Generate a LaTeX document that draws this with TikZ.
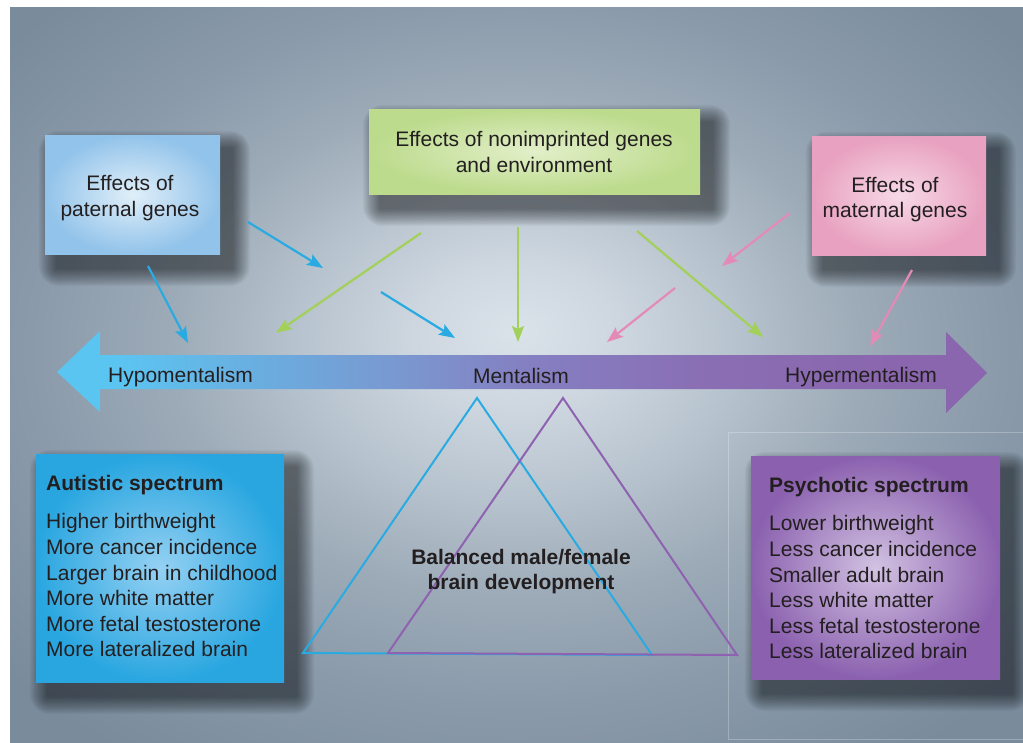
\documentclass[tikz,border=0pt]{standalone}
\usepackage{fontspec}
\setmainfont{Liberation Sans}
\usetikzlibrary{arrows.meta,calc}
\pgfdeclarelayer{bg}
\pgfdeclarelayer{shadowlayer}
\pgfsetlayers{bg,shadowlayer,main}

\definecolor{txt}{HTML}{231F20}
\definecolor{pc0}{HTML}{DAE2EA}
\definecolor{pc1}{HTML}{CED7E0}
\definecolor{pc2}{HTML}{B6C2CD}
\definecolor{pc3}{HTML}{9DABB8}
\definecolor{pc4}{HTML}{8A9AAA}
\definecolor{pc5}{HTML}{7A8B9C}
\definecolor{bar1}{HTML}{5BC5F2}
\definecolor{bar2}{HTML}{6AADDF}
\definecolor{bar3}{HTML}{7B96CF}
\definecolor{bar4}{HTML}{8480C2}
\definecolor{bar5}{HTML}{8A6EB4}
\definecolor{bar6}{HTML}{8A66AE}
\definecolor{ablue}{HTML}{29ABE2}
\definecolor{agreen}{HTML}{A3D058}
\definecolor{apink}{HTML}{E48AB6}
\definecolor{tpurple}{HTML}{8E62B0}
\definecolor{patin}{HTML}{E0EFF9}
\definecolor{patout}{HTML}{92C3EA}
\definecolor{envin}{HTML}{E2EFC9}
\definecolor{envout}{HTML}{BCDB8C}
\definecolor{matin}{HTML}{F7D9E7}
\definecolor{matout}{HTML}{E8A1C0}
\definecolor{autin}{HTML}{95D1F3}
\definecolor{autout}{HTML}{29A6E0}
\definecolor{psyin}{HTML}{D2C2E2}
\definecolor{psyout}{HTML}{8B61AF}

\pgfdeclareradialshading{panelshade}{\pgfpoint{0bp}{3bp}}{color(0bp)=(pc0); color(5bp)=(pc1); color(11bp)=(pc2); color(17bp)=(pc3); color(24bp)=(pc4); color(33bp)=(pc5); color(50bp)=(pc5)}
\pgfdeclarehorizontalshading{barshade}{100bp}{color(0bp)=(bar1); color(28bp)=(bar1); color(36bp)=(bar2); color(44bp)=(bar3); color(50bp)=(bar4); color(60bp)=(bar5); color(70bp)=(bar6); color(100bp)=(bar6)}

\newcommand\boxshadow[1]{%
  \begin{pgfonlayer}{shadowlayer}
    \foreach \sr in {1,...,20}{%
      \fill[black,opacity=0.026,rounded corners={\sr pt}]
        ($(#1.north west)+(12-0.9*\sr,14-0.9*\sr)$) rectangle ($(#1.south east)+(12+0.9*\sr,14+0.9*\sr)$);}
  \end{pgfonlayer}}

\tikzset{
  every node/.style={font=\fontsize{21}{25.6}\selectfont, text=txt},
  colorbox/.style={rectangle, draw=none, inner sep=0pt},
  boxtext/.style={align=center, inner sep=0pt},
  listtext/.style={align=left, inner sep=0pt, anchor=north west},
  arr/.style={line width=2.2pt, -{Stealth[length=16pt,width=12pt,inset=3pt]}},
  tri/.style={line width=2pt, line join=miter},
}

\begin{document}
\begin{tikzpicture}[x=1pt,y=-1pt]
\useasboundingbox (0,0) rectangle (1023,742);
\begin{pgfonlayer}{bg}
  \fill[white] (0,0) rectangle (1023,742);
  \shade[shading=panelshade] (10,7) rectangle (1023,742);
  \draw[white,opacity=0.25,line width=0.8pt] (1023,432) -- (728,432) -- (728,739) -- (1023,739);
\end{pgfonlayer}

% boxes
\node[colorbox, minimum width=175pt, minimum height=119pt, inner color=patin, outer color=patout] (pat) at (132.5,194.5) {};
\node[colorbox, minimum width=331pt, minimum height=85pt, inner color=envin, outer color=envout] (env) at (534.5,151.5) {};
\node[colorbox, minimum width=174pt, minimum height=119pt, inner color=matin, outer color=matout] (mat) at (899,195.5) {};
\node[colorbox, minimum width=248pt, minimum height=228pt, inner color=autin, outer color=autout] (aut) at (160,568) {};
\node[colorbox, minimum width=249pt, minimum height=223pt, inner color=psyin, outer color=psyout] (psy) at (875.5,567.5) {};
\boxshadow{pat}
\boxshadow{env}
\boxshadow{mat}
\boxshadow{aut}
\boxshadow{psy}

\node[boxtext] (patT) at (130,198) {Effects of\\paternal genes};
\node[boxtext] (envT) at (534,152) {Effects of nonimprinted genes\\and environment};
\node[boxtext] (matT) at (895,199.5) {Effects of\\maternal genes};

\node[listtext] (autT) at (46,475.5) {\textbf{Autistic spectrum}\\[12.4pt]
Higher birthweight\\More cancer incidence\\Larger brain in childhood\\More white matter\\More fetal testosterone\\More lateralized brain};
\node[listtext] (psyT) at (769,477.5) {\textbf{Psychotic spectrum}\\[12.4pt]
Lower birthweight\\Less cancer incidence\\Smaller adult brain\\Less white matter\\Less fetal testosterone\\Less lateralized brain};

% big double arrow
\shade[shading=barshade] (57,372) -- (100,331) -- (100,355) -- (946,355) -- (946,332) -- (987,373)
  -- (946,413) -- (946,389) -- (100,389) -- (100,412) -- cycle;
\node[anchor=base west, inner sep=0pt] (hypo) at (108,382) {Hypomentalism};
\node[anchor=base, inner sep=0pt] (ment) at (521,383) {Mentalism};
\node[anchor=base west, inner sep=0pt] (hyper) at (785,382) {Hypermentalism};

% triangles
\draw[tri, ablue] (477,398) -- (303,653) -- (652,655) -- cycle;
\draw[tri, tpurple] (563,398) -- (388,653) -- (737,655) -- cycle;
\node[align=center, inner sep=0pt, font=\fontsize{21}{25}\selectfont\bfseries] (bal) at (521,572) {Balanced male/female\\brain development};

% arrow end points
\coordinate (b1s) at (148,266); \coordinate (b1e) at (188,343);
\coordinate (b2s) at (248,222); \coordinate (b2e) at (323,268);
\coordinate (b3s) at (381,292); \coordinate (b3e) at (455,338);
\coordinate (g1s) at (421,233); \coordinate (g1e) at (276,333);
\coordinate (g2s) at (518,227); \coordinate (g2e) at (518,342);
\coordinate (g3s) at (637,231); \coordinate (g3e) at (763,337);
\coordinate (p1s) at (790,213); \coordinate (p1e) at (722,266);
\coordinate (p2s) at (675,288); \coordinate (p2e) at (607,342);
\coordinate (p3s) at (912,270); \coordinate (p3e) at (870,346);

\draw[arr, ablue] (b1s) -- (b1e);
\draw[arr, ablue] (b2s) -- (b2e);
\draw[arr, ablue] (b3s) -- (b3e);
\draw[arr, agreen] (g1s) -- (g1e);
\draw[arr, agreen] (g2s) -- (g2e);
\draw[arr, agreen] (g3s) -- (g3e);
\draw[arr, apink] (p1s) -- (p1e);
\draw[arr, apink] (p2s) -- (p2e);
\draw[arr, apink] (p3s) -- (p3e);
\end{tikzpicture}
\end{document}
